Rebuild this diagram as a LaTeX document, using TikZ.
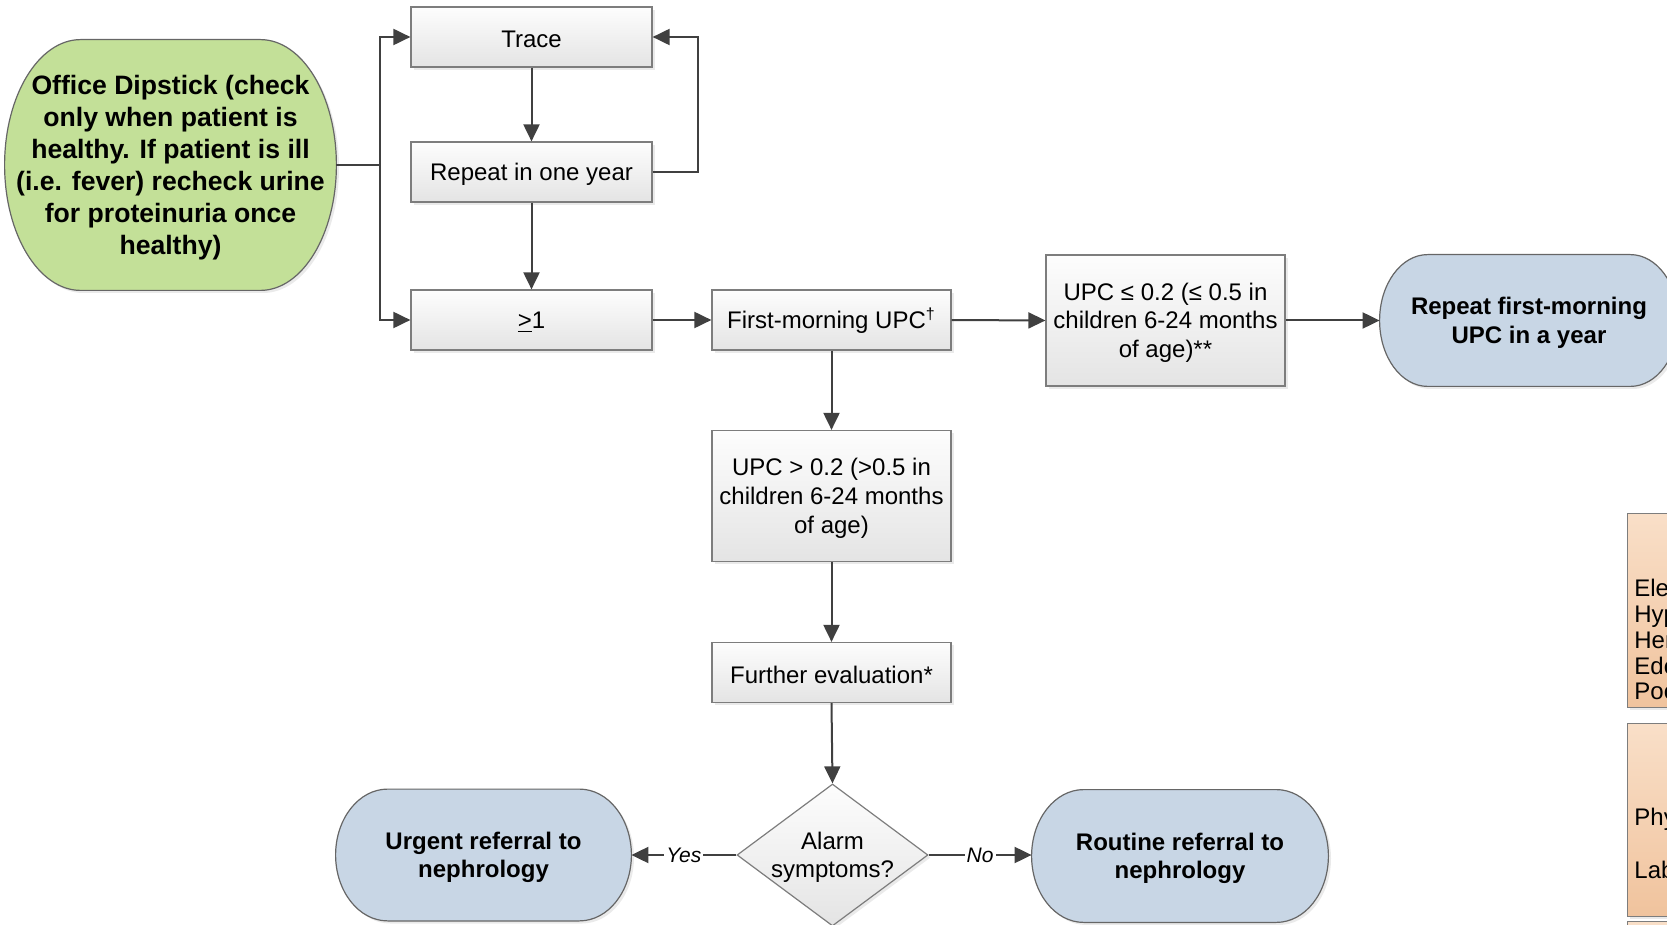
\documentclass[tikz,border=0pt]{standalone}
\usepackage{fontspec}
\setmainfont{Liberation Sans}
\usetikzlibrary{arrows.meta,shadows,shapes.geometric,calc,backgrounds}
\definecolor{boxline}{RGB}{125,125,125}
\definecolor{conn}{RGB}{64,64,64}
\definecolor{greenfill}{RGB}{195,224,152}
\definecolor{bluefill}{RGB}{200,214,229}
\definecolor{orangetop}{RGB}{249,223,200}
\definecolor{orangebot}{RGB}{240,195,157}
\definecolor{greytop}{RGB}{253,253,253}
\definecolor{greybot}{RGB}{228,228,228}
\newcommand\fstrut{\rule{0pt}{10.9pt}}
\newcommand\gstrut{\rule{0pt}{12.4pt}}
\tikzset{
 shad/.style={drop shadow={shadow xshift=1.3pt,shadow yshift=-1.3pt,fill=black!16}},
 topstrut/.style={execute at begin node={\rule{0pt}{#1}}},
 box/.style={draw=boxline,line width=0.6pt,top color=greytop,bottom color=greybot,
   minimum width=120.5pt,minimum height=30pt,inner sep=0pt,align=center,
   font=\fontsize{12}{14.35}\selectfont,shad,topstrut=10.9pt},
 tallbox/.style={box,minimum height=65.5pt,topstrut=0pt},
 termtext/.style={inner sep=0pt,align=center,font=\fontsize{12}{14.35}\selectfont\bfseries},
 termline/.style={draw=black!60,line width=0.6pt,shad},
 dia/.style={diamond,draw=boxline,line width=0.6pt,top color=greytop,bottom color=greybot,
   minimum width=95.5pt,minimum height=71pt,inner sep=0pt,shad},
 plaintext/.style={inner sep=0pt,align=center,font=\fontsize{12}{14.35}\selectfont},
 obox/.style={draw=boxline,line width=0.6pt,top color=orangetop,bottom color=orangebot,
   anchor=north west,minimum width=160pt,inner sep=0pt,shad},
 otext/.style={inner sep=0pt,align=left,anchor=west,font=\fontsize{12}{12.9}\selectfont},
 arr/.style={draw=conn,line width=1pt,-{Triangle[length=8.5pt,width=8pt]}},
 lbl/.style={fill=white,inner sep=1pt,font=\fontsize{10.5}{12}\selectfont\itshape},
}
\newcommand\termshape[3]{%
 \path[#3] let \p1=(#1.north), \p2=(#1.south), \n1={0.5*(\y1-\y2)} in
  ([xshift=#2]#1.north west) -- ([xshift=-#2]#1.north east)
  arc[start angle=90,end angle=-90,x radius=#2,y radius=\n1]
  -- ([xshift=#2]#1.south west)
  arc[start angle=270,end angle=90,x radius=#2,y radius=\n1] -- cycle;}
\begin{document}
\begin{tikzpicture}[x=0.5pt,y=-0.5pt]
\useasboundingbox (0,0) rectangle (1667,925);
\clip (0,0) rectangle (1667,925);

% terminator text nodes
\node[termtext,minimum width=165.5pt,minimum height=125pt,
  font=\fontsize{13.3}{16}\selectfont\bfseries] (dip) at (170.5,165)
  {\gstrut Office Dipstick (check\\only when patient is\\healthy. If patient is ill\\(i.e. fever) recheck urine\\for proteinuria once\\healthy)};
\node[termtext,minimum width=149pt,minimum height=65.5pt] (rfm) at (1529,320.5)
  {\fstrut Repeat first-morning\\UPC in a year};
\node[termtext,minimum width=147.5pt,minimum height=65.5pt] (urg) at (483.5,855)
  {\fstrut Urgent referral to\\nephrology};
\node[termtext,minimum width=148pt,minimum height=66pt] (rout) at (1180,856)
  {\fstrut Routine referral to\\nephrology};

\begin{scope}[on background layer]
\termshape{dip}{38pt}{termline,fill=greenfill}
\termshape{rfm}{24pt}{termline,fill=bluefill}
\termshape{urg}{26pt}{termline,fill=bluefill}
\termshape{rout}{26pt}{termline,fill=bluefill}
\end{scope}

% boxes
\node[box] (trace) at (531.5,37) {Trace};
\node[box] (rep) at (531.5,172) {Repeat in one year};
\node[box] (ge) at (531.5,320) {\underline{>}1};
\node[box,minimum width=119.5pt] (fm) at (831.5,320) {First-morning UPC\textsuperscript{†}};
\node[tallbox,minimum width=119.5pt] (le) at (1165.5,320.5)
  {\fstrut UPC ≤ 0.2 (≤ 0.5 in\\children 6-24 months\\of age)**};
\node[tallbox,minimum width=119.5pt] (gt) at (831.5,496)
  {\fstrut UPC > 0.2 (>0.5 in\\children 6-24 months\\of age)};
\node[box,minimum width=119.5pt] (fe) at (831.5,672.5) {Further evaluation*};
\node[dia] (alarm) at (832.5,855) {};
\node[plaintext] (alarmt) at (832.5,855) {\fstrut Alarm\\symptoms?};

% orange boxes at right edge
\node[obox,minimum height=97pt] (o1) at (1627,513) {};
\node[otext] (o1t) at (1634,642) {Elevated blood pressure\\Hypertension\\Hematuria\\Edema\\Poor growth};
\node[obox,minimum height=96.5pt] (o2) at (1627,723) {};
\node[otext] (o2t) at (1634,843) {Physical exam\\[13.6pt]Labs};
\node[obox,minimum height=60pt] (o3) at (1627,921) {};

% connectors
\coordinate (spine) at (380,165);
\draw[arr] (dip.east) -- (spine) |- (trace.west);
\draw[arr] (spine) |- (ge.west);
\draw[arr] (trace.south) -- (rep.north);
\draw[arr] (rep.south) -- (ge.north);
\coordinate (loop) at (698,172);
\draw[arr] (rep.east) -- (loop) |- (trace.east);
\draw[arr] (ge.east) -- (fm.west);
\draw[arr] (fm.east) -- (le.west);
\draw[arr] (le.east) -- (rfm.west);
\draw[arr] (fm.south) -- (gt.north);
\draw[arr] (gt.south) -- (fe.north);
\draw[arr] (fe.south) -- (alarm.north);
\draw[arr] (alarm.west) -- node[lbl]{Yes} (alarm.west -| urg.east);
\draw[arr] (alarm.east) -- node[lbl]{No} (alarm.east -| rout.west);
\end{tikzpicture}
\end{document}
